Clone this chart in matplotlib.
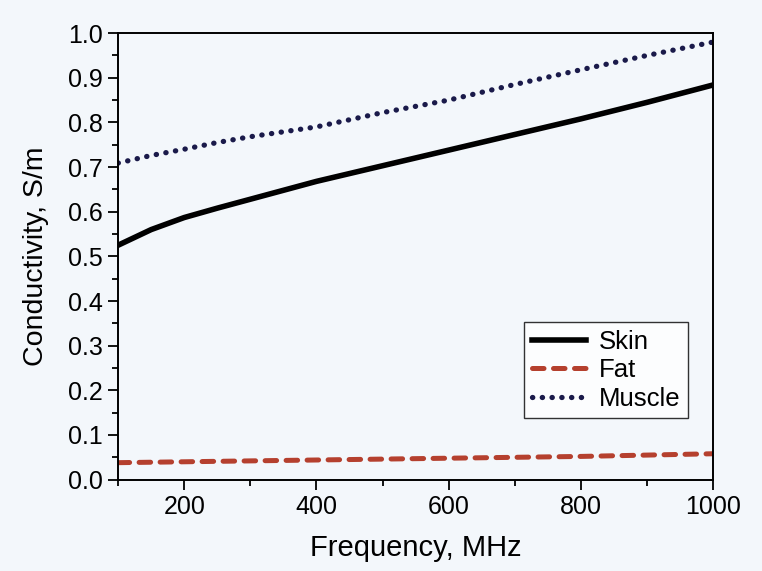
import matplotlib
matplotlib.use('Agg')
import matplotlib.pyplot as plt
from matplotlib.ticker import MultipleLocator

plt.rcParams['font.family'] = ['Liberation Sans', 'DejaVu Sans']

freq = [100, 150, 200, 250, 300, 400, 500, 600, 700, 800, 900, 1000]
skin = [0.525, 0.560, 0.587, 0.608, 0.628, 0.668, 0.703, 0.738, 0.773, 0.808, 0.845, 0.884]
fat = [0.038, 0.039, 0.040, 0.041, 0.042, 0.044, 0.046, 0.048, 0.050, 0.052, 0.055, 0.058]
muscle = [0.709, 0.726, 0.740, 0.755, 0.768, 0.790, 0.822, 0.850, 0.885, 0.918, 0.950, 0.980]

bg = '#f3f7fb'
fig = plt.figure(figsize=(7.62, 5.71), dpi=100, facecolor=bg)
ax = fig.add_axes([0.155, 0.160, 0.781, 0.782], facecolor=bg)

ax.plot(freq, skin, color='black', lw=4.0, label='Skin')
ax.plot(freq, fat, color='#b5402e', lw=3.6, ls=(0, (2.3, 1.9)),
        dash_capstyle='round', label='Fat')
ax.plot(freq, muscle, color='#1a1a4a', lw=3.8, ls=(0, (0.05, 1.8)),
        dash_capstyle='round', label='Muscle')

ax.set_xlim(100, 1000)
ax.set_ylim(0, 1.0)
ax.set_xticks([200, 400, 600, 800, 1000])
ax.xaxis.set_minor_locator(MultipleLocator(100))
ax.yaxis.set_major_locator(MultipleLocator(0.1))
ax.yaxis.set_minor_locator(MultipleLocator(0.05))
ax.yaxis.set_major_formatter(plt.FormatStrFormatter('%.1f'))
ax.tick_params(which='major', length=7, width=1.3, labelsize=18, pad=4, direction='out')
ax.tick_params(which='minor', length=4, width=1.3, direction='out')
for s in ax.spines.values():
    s.set_linewidth(1.4)

ax.set_xlabel('Frequency, MHz', fontsize=21, labelpad=11)
ax.set_ylabel('Conductivity, S/m', fontsize=20.5, labelpad=14)

leg = ax.legend(loc='lower right', bbox_to_anchor=(0.958, 0.137), fontsize=18.5,
                frameon=True, fancybox=False, edgecolor='black',
                handlelength=2.1, handletextpad=0.5, borderpad=0.3,
                labelspacing=0.18, borderaxespad=0)
leg.get_frame().set_linewidth(1.0)
leg.get_frame().set_facecolor('white')

fig.savefig('out.png', dpi=100, facecolor=bg)
